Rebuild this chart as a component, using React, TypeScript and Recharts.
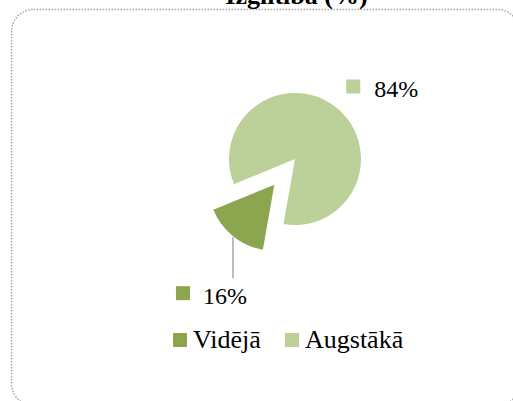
import { Cell, Legend, Pie, PieChart } from 'recharts'

const categories = ['Vidējā', 'Augstākā']
const shares = [16, 84]
const colors = ['#8BA64F', '#BCD09A']
const chartTitle = 'Izglītība (%)'

const FONT = 'Liberation Serif, Times New Roman, DejaVu Serif, serif'
const RAD = Math.PI / 180
const START = 260
const END = -100
const CX = 295
const CY = 159
const R = 66
const EXPLODE = 33

const data = categories.map((name, i) => ({ name, value: shares[i] }))

// mid angle of the exploded (first) slice, used to shift the second pie
const total = shares.reduce((a, b) => a + b, 0)
const firstMid = START + ((END - START) * shares[0]) / total / 2
const cx2 = CX + EXPLODE * Math.cos(-firstMid * RAD)
const cy2 = CY + EXPLODE * Math.sin(-firstMid * RAD)

const textStyle = { fontFamily: FONT }

function makeLabel(showIndex: number) {
  return (props: any) => {
    const { cx, cy, midAngle, outerRadius, percent, index } = props
    if (index !== showIndex) return null
    const text = `${Math.round(percent * 100)}%`
    if (index === 0) {
      const ex = cx + outerRadius * Math.cos(-midAngle * RAD)
      const ey = cy + outerRadius * Math.sin(-midAngle * RAD)
      return (
        <g>
          <line x1={ex} y1={ey + 1} x2={ex} y2={ey + 42} stroke="#A6A6A6" strokeWidth={1.5} />
          <rect x={ex - 57} y={ey + 50} width={14} height={14} fill={colors[index]} />
          <text x={ex - 30} y={ey + 68} style={textStyle} fontSize={24} fill="#000">
            {text}
          </text>
        </g>
      )
    }
    const r = outerRadius + 27
    const px = cx + r * Math.cos(-midAngle * RAD)
    const py = cy + r * Math.sin(-midAngle * RAD)
    return (
      <g>
        <rect x={px - 7} y={py - 7} width={14} height={14} fill={colors[index]} />
        <text x={px + 21} y={py + 10} style={textStyle} fontSize={24} fill="#000">
          {text}
        </text>
      </g>
    )
  }
}

function LegendContent() {
  return (
    <svg width={260} height={40} style={{ display: 'block' }}>
      {categories.map((c, i) => (
        <g key={c}>
          <rect x={i * 112} y={13} width={14} height={14} fill={colors[i]} />
          <text x={i * 112 + 20} y={28} style={textStyle} fontSize={26} fill="#000">
            {c}
          </text>
        </g>
      ))}
    </svg>
  )
}

export default function App() {
  return (
    <div style={{ position: 'absolute', left: 0, top: 0, width: 513, height: 401, background: '#fff' }}>
      <PieChart width={513} height={401} margin={{ top: 0, right: 0, bottom: 0, left: 0 }}>
        <Pie
          data={data}
          dataKey="value"
          nameKey="name"
          cx={CX}
          cy={CY}
          outerRadius={R}
          startAngle={START}
          endAngle={END}
          stroke="none"
          label={makeLabel(1)}
          labelLine={false}
          legendType="none"
          isAnimationActive={false}
        >
          {data.map((d, i) => (
            <Cell key={d.name} fill={i === 1 ? colors[i] : 'none'} />
          ))}
        </Pie>
        <Pie
          data={data}
          dataKey="value"
          nameKey="name"
          cx={cx2}
          cy={cy2}
          outerRadius={R}
          startAngle={START}
          endAngle={END}
          stroke="none"
          label={makeLabel(0)}
          labelLine={false}
          legendType="none"
          isAnimationActive={false}
        >
          {data.map((d, i) => (
            <Cell key={d.name} fill={i === 0 ? colors[i] : 'none'} />
          ))}
        </Pie>
        <Legend
          content={<LegendContent />}
          wrapperStyle={{ position: 'absolute', left: 173, top: 320, width: 'auto', bottom: 'auto' }}
        />
      </PieChart>
      <svg width={513} height={401} style={{ position: 'absolute', left: 0, top: 0, pointerEvents: 'none' }}>
        <rect
          x={11.5}
          y={9.5}
          width={508}
          height={396}
          rx={22}
          fill="none"
          stroke="#A6A6A6"
          strokeWidth={1.5}
          strokeDasharray="1.5 1.5"
        />
        <text x={296.5} y={4} textAnchor="middle" style={textStyle} fontSize={26} fontWeight="bold" fill="#000">
          {chartTitle}
        </text>
      </svg>
    </div>
  )
}
